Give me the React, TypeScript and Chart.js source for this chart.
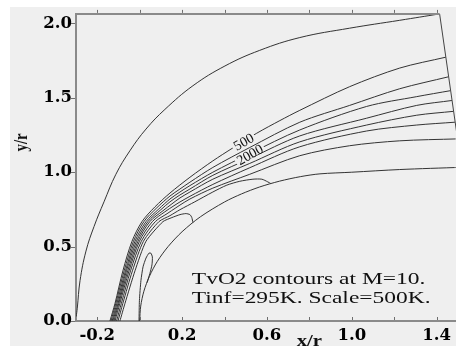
import React, { useEffect, useRef } from "react";
import { Chart, registerables } from "chart.js";

Chart.register(...registerables);

type P = [number, number];

// axis ranges and ticks
const xRange: P = [-0.3, 1.4895];
const yRange: P = [0, 2.064];
const xTickValues = [-0.2, 0, 0.2, 0.4, 0.6, 0.8, 1.0, 1.2, 1.4];
const xLabelValues = [-0.2, 0.2, 0.6, 1.0, 1.4];
const yTickValues = [0, 0.5, 1.0, 1.5, 2.0];

// contour lines (x/r, y/r)
const outerContour: P[] = [
  [-0.299, 0.03], [-0.294, 0.086], [-0.281, 0.271], [-0.253, 0.47], [-0.215, 0.635],
  [-0.168, 0.801], [-0.112, 0.986], [-0.046, 1.144], [0.03, 1.29], [0.119, 1.422],
  [0.251, 1.581], [0.402, 1.714], [0.566, 1.819], [0.755, 1.905], [0.99, 1.968],
  [1.226, 2.021], [1.414, 2.064],
];
const contour1: P[] = [
  [-0.14, 0], [-0.116, 0.119], [-0.079, 0.337], [-0.036, 0.536], [0.011, 0.668], [0.072, 0.767],
  [0.143, 0.86], [0.237, 0.966], [0.345, 1.076], [0.439, 1.163], [0.552, 1.262], [0.661, 1.347],
  [0.755, 1.416], [0.99, 1.575], [1.226, 1.7], [1.443, 1.773],
];
const contour2: P[] = [
  [-0.135, 0], [-0.112, 0.119], [-0.073, 0.337], [-0.029, 0.536], [0.02, 0.668], [0.081, 0.761],
  [0.143, 0.84], [0.19, 0.887], [0.237, 0.933], [0.345, 1.032], [0.519, 1.166], [0.755, 1.336],
  [0.99, 1.449], [1.226, 1.561], [1.455, 1.641],
];
const contour3: P[] = [
  [-0.13, 0], [-0.107, 0.119], [-0.067, 0.337], [-0.022, 0.536], [0.03, 0.668], [0.091, 0.754],
  [0.143, 0.82], [0.19, 0.867], [0.237, 0.91], [0.345, 1.0], [0.519, 1.125], [0.755, 1.284],
  [1.07, 1.442], [1.306, 1.508], [1.465, 1.548],
];
const contour4: P[] = [
  [-0.126, 0], [-0.102, 0.119], [-0.062, 0.337], [-0.015, 0.536], [0.039, 0.668], [0.1, 0.748],
  [0.143, 0.801], [0.19, 0.847], [0.237, 0.887], [0.345, 0.979], [0.519, 1.092], [0.755, 1.244],
  [1.07, 1.363], [1.306, 1.449], [1.472, 1.482],
];
const contour5: P[] = [
  [-0.121, 0], [-0.098, 0.119], [-0.056, 0.337], [-0.008, 0.536], [0.048, 0.668], [0.11, 0.741],
  [0.152, 0.787], [0.19, 0.827], [0.237, 0.867], [0.345, 0.953], [0.519, 1.059], [0.755, 1.204],
  [1.07, 1.317], [1.306, 1.383], [1.479, 1.409],
];
const contour6: P[] = [
  [-0.116, 0], [-0.093, 0.119], [-0.05, 0.337], [-0.001, 0.536], [0.06, 0.668], [0.119, 0.734],
  [0.162, 0.775], [0.19, 0.8], [0.237, 0.838], [0.345, 0.918], [0.519, 1.03], [0.755, 1.171],
  [1.07, 1.277], [1.306, 1.317], [1.486, 1.336],
];
const contour7: P[] = [
  [-0.109, 0], [-0.086, 0.119], [-0.043, 0.337], [0.008, 0.536], [0.074, 0.668], [0.129, 0.721],
  [0.171, 0.761], [0.19, 0.779], [0.237, 0.82], [0.345, 0.893], [0.519, 0.986], [0.755, 1.111],
  [0.99, 1.178], [1.226, 1.211], [1.498, 1.224],
];
const contour8: P[] = [
  [-0.102, 0], [-0.079, 0.119], [-0.034, 0.337], [0.018, 0.536], [0.091, 0.668], [0.143, 0.708],
  [0.19, 0.748], [0.26, 0.801], [0.345, 0.867], [0.411, 0.913], [0.472, 0.939], [0.534, 0.953],
  [0.576, 0.953], [0.604, 0.935], [0.618, 0.924],
];
const contour9: P[] = [
  [-0.093, 0], [-0.069, 0.119], [-0.022, 0.337], [0.03, 0.536], [0.11, 0.668], [0.152, 0.695],
  [0.19, 0.715], [0.218, 0.722], [0.237, 0.715], [0.246, 0.695], [0.251, 0.662],
];
const contour10: P[] = [
  [-0.003, 0], [-0.001, 0.139], [0.006, 0.271], [0.016, 0.364], [0.03, 0.423], [0.044, 0.456],
  [0.053, 0.456], [0.06, 0.43], [0.058, 0.377], [0.048, 0.318], [0.035, 0.258],
];
const bodySurface: P[] = [
  [0, 0], [0.005, 0.1], [0.02, 0.2], [0.046, 0.3], [0.083, 0.4], [0.134, 0.5], [0.2, 0.6],
  [0.286, 0.7], [0.4, 0.8], [0.48, 0.854], [0.564, 0.9], [0.66, 0.94], [0.757, 0.97],
  [0.85, 0.989], [1.0, 1.0], [1.226, 1.018], [1.518, 1.033],
];
const domainTop: P[] = [[-0.3, 2.064], [1.414, 2.064]];
const domainOutflow: P[] = [[1.414, 2.064], [1.622, 0]];

// contour labels
const labelTexts = ["500", "2000"];
const labelX = [0.49, 0.519];
const labelY = [1.205, 1.12];

const captionLines = ["TvO2 contours at M=10.", "Tinf=295K. Scale=500K."];
const captionAnchor: P = [0.246, 0.251];
const xTitle = "x/r";
const yTitle = "y/r";

const BG = "#efefef";
const AXIS = "#8a8a8a";
const INK = "#333333";

const near = (a: number, b: number) => Math.abs(a - b) < 1e-6;

export default function App() {
  const ref = useRef<HTMLCanvasElement | null>(null);

  useEffect(() => {
    const prevMargin = document.body.style.margin;
    document.body.style.margin = "0";
    const canvas = ref.current;
    if (!canvas) return;

    const toPts = (arr: P[]) => arr.map(([x, y]) => ({ x, y }));
    const line = (arr: P[], extra: any = {}) => ({
      data: toPts(arr),
      showLine: true,
      pointRadius: 0,
      pointHoverRadius: 0,
      borderColor: INK,
      borderWidth: 1,
      tension: 0.3,
      fill: false,
      ...extra,
    });

    const bgPlugin = {
      id: "bgPlugin",
      beforeDraw(chart: any) {
        const { ctx, width, height } = chart;
        ctx.save();
        ctx.fillStyle = "#ffffff";
        ctx.fillRect(0, 0, width, height);
        ctx.fillStyle = BG;
        ctx.fillRect(10, 7, width - 10, height - 10);
        ctx.restore();
      },
    };

    const decorPlugin = {
      id: "decorPlugin",
      afterDraw(chart: any) {
        const { ctx, chartArea, scales } = chart;
        const xs = scales.x;
        const ys = scales.y;
        ctx.save();
        // tick marks
        ctx.strokeStyle = "#6e6e6e";
        ctx.lineWidth = 1;
        ctx.beginPath();
        xTickValues.forEach((v) => {
          const px = Math.round(xs.getPixelForValue(v)) + 0.5;
          ctx.moveTo(px, chartArea.bottom - 1);
          ctx.lineTo(px, chartArea.bottom - 4);
          ctx.moveTo(px, chartArea.top - 1);
          ctx.lineTo(px, chartArea.top - 4);
        });
        yTickValues.forEach((v) => {
          const py = Math.round(ys.getPixelForValue(v)) + 0.5;
          ctx.moveTo(chartArea.left - 1, py);
          ctx.lineTo(chartArea.left - 5, py);
        });
        ctx.stroke();

        // contour labels
        ctx.font = '14px "Liberation Serif"';
        ctx.textAlign = "center";
        ctx.textBaseline = "middle";
        labelTexts.forEach((t, i) => {
          const px = xs.getPixelForValue(labelX[i]);
          const py = ys.getPixelForValue(labelY[i]);
          const w = ctx.measureText(t).width;
          ctx.save();
          ctx.translate(px, py);
          ctx.rotate(-Math.PI / 6);
          ctx.fillStyle = BG;
          ctx.fillRect(-w / 2 - 2, -4, w + 4, 8);
          ctx.fillStyle = "#111";
          ctx.fillText(t, 0, 1);
          ctx.restore();
        });

        // caption
        ctx.fillStyle = "#111";
        ctx.font = '17px "Liberation Serif"';
        ctx.textAlign = "left";
        ctx.textBaseline = "alphabetic";
        const cx = xs.getPixelForValue(captionAnchor[0]);
        const cy = ys.getPixelForValue(captionAnchor[1]);
        captionLines.forEach((t, i) => {
          ctx.save();
          ctx.translate(cx, cy + i * 19);
          ctx.scale(1.38, 1);
          ctx.fillText(t, 0, 0);
          ctx.restore();
        });

        // axis titles
        ctx.font = 'bold 16px "Liberation Serif"';
        ctx.textAlign = "center";
        ctx.save();
        ctx.translate(xs.getPixelForValue(0.8), chartArea.bottom + 25);
        ctx.scale(1.3, 1);
        ctx.fillText(xTitle, 0, 0);
        ctx.restore();

        ctx.save();
        ctx.translate(chartArea.left - 54, ys.getPixelForValue(1.2));
        ctx.rotate(-Math.PI / 2);
        ctx.scale(1, 1.3);
        ctx.textBaseline = "middle";
        ctx.font = 'bold 15px "Liberation Serif"';
        ctx.fillText(yTitle, 0, 0);
        ctx.restore();
        ctx.restore();
      },
    };

    const tickFont = { family: '"DejaVu Serif"', weight: "bold" as const, size: 16.5 };

    const chart = new Chart(canvas, {
      type: "scatter",
      data: {
        datasets: [
          line(domainTop, { borderColor: AXIS, borderWidth: 2, tension: 0, clip: false }),
          line(domainOutflow, { borderColor: "#444", tension: 0, clip: false }),
          line(outerContour, { tension: 0.4 }),
          line(contour1),
          line(contour2),
          line(contour3),
          line(contour4),
          line(contour5),
          line(contour6),
          line(contour7),
          line(contour8, { tension: 0.25 }),
          line(contour9, { tension: 0.2 }),
          line(contour10, { tension: 0.2 }),
          line(bodySurface),
        ] as any,
      },
      options: {
        animation: false,
        responsive: false,
        devicePixelRatio: 1,
        layout: { padding: { top: 9, left: 0, right: 0, bottom: 0 } },
        plugins: { legend: { display: false }, tooltip: { enabled: false } },
        events: [],
        scales: {
          x: {
            type: "linear",
            min: xRange[0],
            max: xRange[1],
            afterBuildTicks: (s: any) => {
              s.ticks = xTickValues.map((v) => ({ value: v }));
            },
            afterFit: (s: any) => {
              s.height = 28;
            },
            grid: { display: false, drawTicks: false },
            border: { display: true, color: AXIS, width: 2 },
            ticks: {
              autoSkip: false,
              maxRotation: 0,
              padding: 5,
              color: "#000",
              font: tickFont,
              callback: (v: any) => (xLabelValues.some((l) => near(l, Number(v))) ? Number(v).toFixed(1) : ""),
            },
          },
          y: {
            type: "linear",
            min: yRange[0],
            max: yRange[1],
            afterBuildTicks: (s: any) => {
              s.ticks = yTickValues.map((v) => ({ value: v }));
            },
            afterFit: (s: any) => {
              s.width = 76;
            },
            grid: { display: false, drawTicks: false },
            border: { display: true, color: AXIS, width: 2 },
            ticks: {
              autoSkip: false,
              padding: 4,
              color: "#000",
              font: tickFont,
              callback: (v: any) => Number(v).toFixed(1),
            },
          },
        },
      } as any,
      plugins: [bgPlugin, decorPlugin],
    });

    return () => {
      chart.destroy();
      document.body.style.margin = prevMargin;
    };
  }, []);

  return (
    <canvas
      ref={ref}
      width={456}
      height={349}
      style={{ display: "block", width: 456, height: 349 }}
    />
  );
}
